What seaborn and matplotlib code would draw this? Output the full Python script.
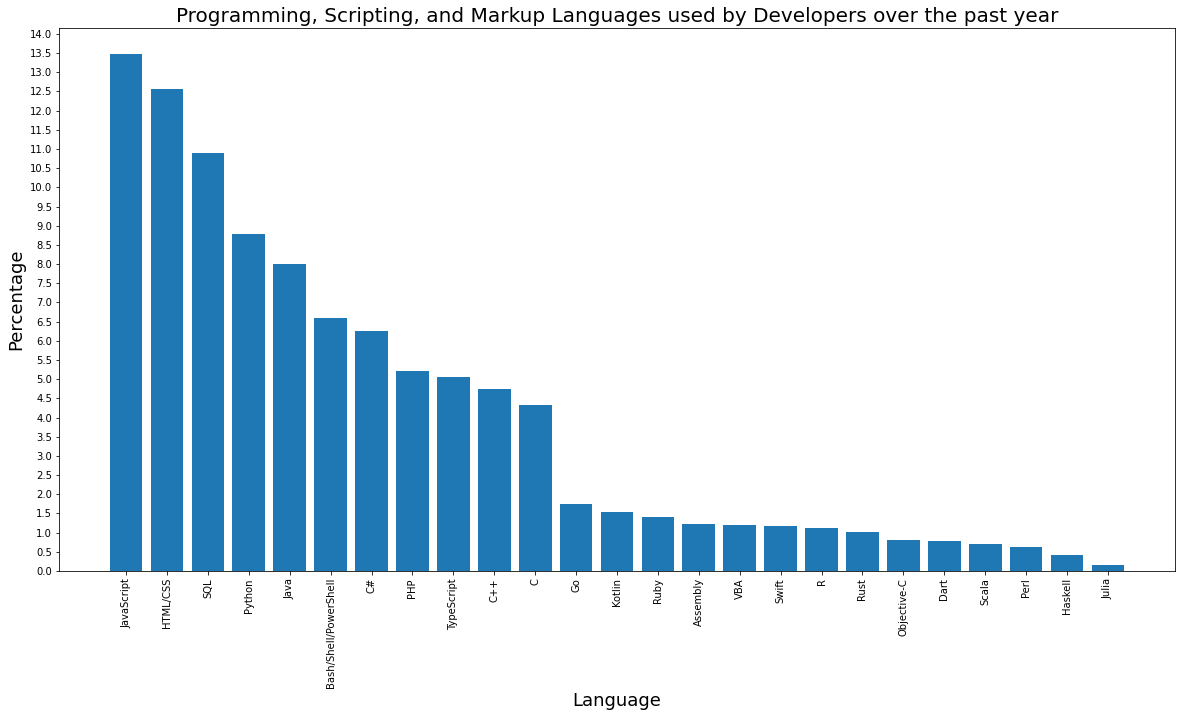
import numpy as np
import pandas as pd
import matplotlib
matplotlib.use("Agg")
import matplotlib.pyplot as plt
import seaborn as sns

# values (percent of respondents)
languages = ["JavaScript", "HTML/CSS", "SQL", "Python", "Java",
             "Bash/Shell/PowerShell", "C#", "PHP", "TypeScript", "C++",
             "C", "Go", "Kotlin", "Ruby", "Assembly", "VBA", "Swift", "R",
             "Rust", "Objective-C", "Dart", "Scala", "Perl", "Haskell", "Julia"]
percentages = [13.48, 12.57, 10.90, 8.78, 8.00,
               6.60, 6.26, 5.22, 5.06, 4.75,
               4.33, 1.75, 1.54, 1.41, 1.23, 1.20, 1.17, 1.12,
               1.02, 0.81, 0.78, 0.70, 0.63, 0.42, 0.16]
y_ticks = np.arange(0, 14.01, 0.5)

df = pd.DataFrame({"Language": languages, "Percentage": percentages})

fig = plt.figure(figsize=(1181 / 72, 718 / 72), dpi=72)
ax = fig.add_axes([0.04996, 0.2047, 0.94496, 0.7563])

sns.barplot(data=df, x="Language", y="Percentage", color="#1f77b4",
            saturation=1, width=0.8, ax=ax)

# matplotlib-style 5% side margins, like a plain plt.bar
n = len(languages)
pad = 0.05 * (n - 1 + 0.8)
ax.set_xlim(-0.4 - pad, n - 1 + 0.4 + pad)
ax.set_ylim(0, max(percentages) * 1.05)

ax.set_yticks(y_ticks)
ax.set_yticklabels([f"{t:.1f}" for t in y_ticks], fontsize=10)
ax.tick_params(axis="x", labelrotation=90, labelsize=10)

ax.set_title("Programming, Scripting, and Markup Languages used by Developers over the past year",
             fontsize=20)
ax.set_xlabel("Language", fontsize=18)
ax.set_ylabel("Percentage", fontsize=18)

fig.savefig("out.png", dpi=72)
